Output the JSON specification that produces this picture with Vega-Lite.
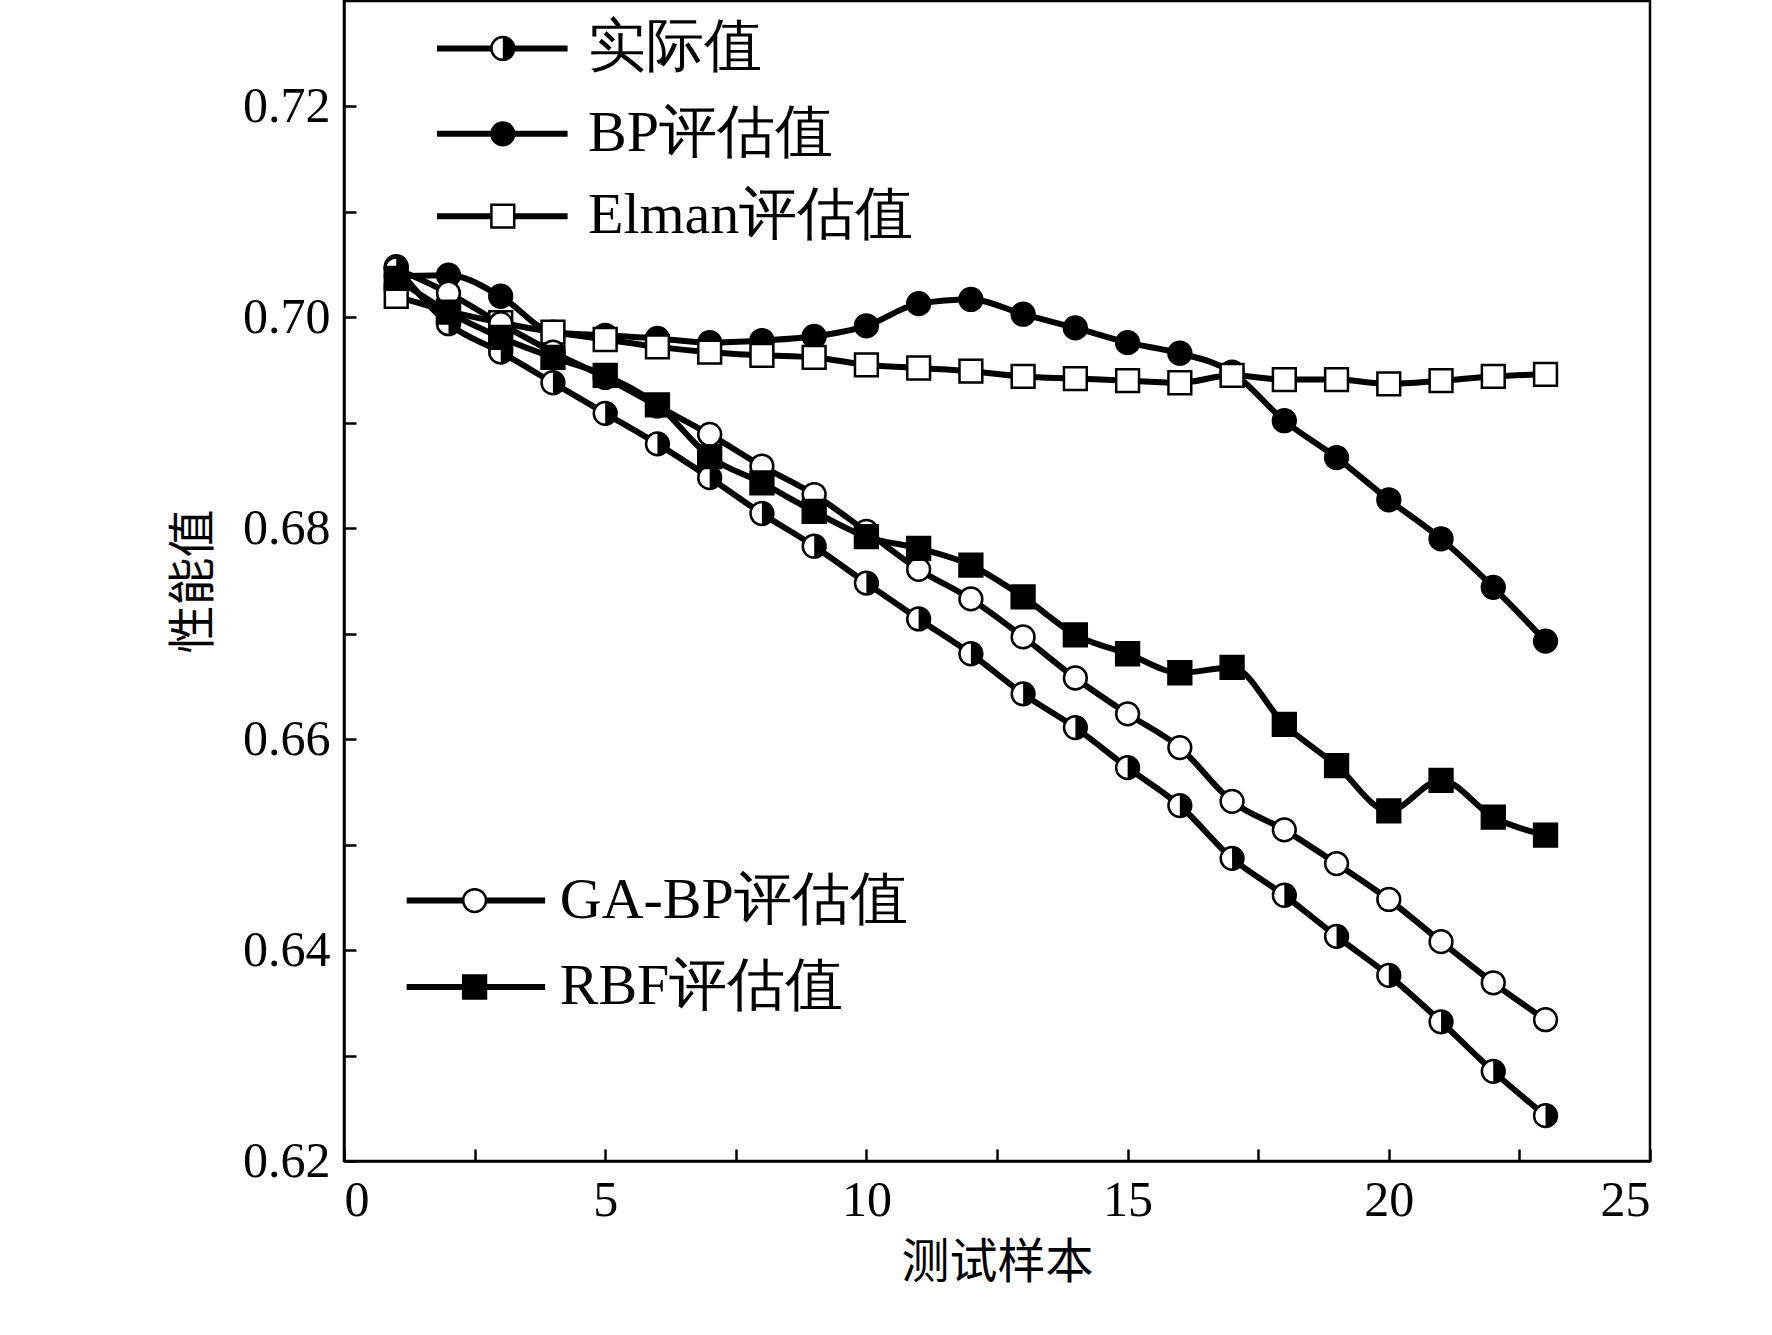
{
"$schema":"https://vega.github.io/schema/vega-lite/v6.json",
"width":1306,"height":1160,"autosize":{"type":"none"},
"padding":{"left":344,"top":1,"right":122,"bottom":174},
"background":"white",
"config":{"view":{"stroke":"black","strokeWidth":2.5},"axis":{"grid":false,"domainColor":"black","domainWidth":2.5,"tickColor":"black","tickWidth":2.5,"labelFont":"Liberation Serif","labelFontSize":50,"labelColor":"black","titleFont":"Noto Sans CJK SC","titleFontSize":48,"titleFontWeight":"normal","titleColor":"black"}},
"datasets":{
"d":[
{"s":"实际值","x":1,"v":0.7048},{"s":"实际值","x":2,"v":0.6994},{"s":"实际值","x":3,"v":0.6967},{"s":"实际值","x":4,"v":0.6938},{"s":"实际值","x":5,"v":0.6909},{"s":"实际值","x":6,"v":0.6880},{"s":"实际值","x":7,"v":0.6848},{"s":"实际值","x":8,"v":0.6814},{"s":"实际值","x":9,"v":0.6783},{"s":"实际值","x":10,"v":0.6748},{"s":"实际值","x":11,"v":0.6714},{"s":"实际值","x":12,"v":0.6681},{"s":"实际值","x":13,"v":0.6643},{"s":"实际值","x":14,"v":0.6611},{"s":"实际值","x":15,"v":0.6573},{"s":"实际值","x":16,"v":0.6537},{"s":"实际值","x":17,"v":0.6487},{"s":"实际值","x":18,"v":0.6452},{"s":"实际值","x":19,"v":0.6413},{"s":"实际值","x":20,"v":0.6376},{"s":"实际值","x":21,"v":0.6332},{"s":"实际值","x":22,"v":0.6285},{"s":"实际值","x":23,"v":0.6243},
{"s":"BP评估值","x":1,"v":0.7039},{"s":"BP评估值","x":2,"v":0.7040},{"s":"BP评估值","x":3,"v":0.7020},{"s":"BP评估值","x":4,"v":0.6986},{"s":"BP评估值","x":5,"v":0.6983},{"s":"BP评估值","x":6,"v":0.6980},{"s":"BP评估值","x":7,"v":0.6976},{"s":"BP评估值","x":8,"v":0.6978},{"s":"BP评估值","x":9,"v":0.6982},{"s":"BP评估值","x":10,"v":0.6992},{"s":"BP评估值","x":11,"v":0.7013},{"s":"BP评估值","x":12,"v":0.7017},{"s":"BP评估值","x":13,"v":0.7003},{"s":"BP评估值","x":14,"v":0.6990},{"s":"BP评估值","x":15,"v":0.6976},{"s":"BP评估值","x":16,"v":0.6966},{"s":"BP评估值","x":17,"v":0.6948},{"s":"BP评估值","x":18,"v":0.6902},{"s":"BP评估值","x":19,"v":0.6867},{"s":"BP评估值","x":20,"v":0.6827},{"s":"BP评估值","x":21,"v":0.6790},{"s":"BP评估值","x":22,"v":0.6744},{"s":"BP评估值","x":23,"v":0.6693},
{"s":"Elman评估值","x":1,"v":0.7020},{"s":"Elman评估值","x":2,"v":0.7006},{"s":"Elman评估值","x":3,"v":0.6995},{"s":"Elman评估值","x":4,"v":0.6986},{"s":"Elman评估值","x":5,"v":0.6979},{"s":"Elman评估值","x":6,"v":0.6972},{"s":"Elman评估值","x":7,"v":0.6967},{"s":"Elman评估值","x":8,"v":0.6964},{"s":"Elman评估值","x":9,"v":0.6962},{"s":"Elman评估值","x":10,"v":0.6955},{"s":"Elman评估值","x":11,"v":0.6952},{"s":"Elman评估值","x":12,"v":0.6949},{"s":"Elman评估值","x":13,"v":0.6944},{"s":"Elman评估值","x":14,"v":0.6942},{"s":"Elman评估值","x":15,"v":0.6940},{"s":"Elman评估值","x":16,"v":0.6938},{"s":"Elman评估值","x":17,"v":0.6945},{"s":"Elman评估值","x":18,"v":0.6941},{"s":"Elman评估值","x":19,"v":0.6941},{"s":"Elman评估值","x":20,"v":0.6937},{"s":"Elman评估值","x":21,"v":0.6940},{"s":"Elman评估值","x":22,"v":0.6944},{"s":"Elman评估值","x":23,"v":0.6946},
{"s":"GA-BP评估值","x":1,"v":0.7046},{"s":"GA-BP评估值","x":2,"v":0.7023},{"s":"GA-BP评估值","x":3,"v":0.6994},{"s":"GA-BP评估值","x":4,"v":0.6967},{"s":"GA-BP评估值","x":5,"v":0.6943},{"s":"GA-BP评估值","x":6,"v":0.6916},{"s":"GA-BP评估值","x":7,"v":0.6889},{"s":"GA-BP评估值","x":8,"v":0.6859},{"s":"GA-BP评估值","x":9,"v":0.6832},{"s":"GA-BP评估值","x":10,"v":0.6797},{"s":"GA-BP评估值","x":11,"v":0.6761},{"s":"GA-BP评估值","x":12,"v":0.6733},{"s":"GA-BP评估值","x":13,"v":0.6697},{"s":"GA-BP评估值","x":14,"v":0.6658},{"s":"GA-BP评估值","x":15,"v":0.6624},{"s":"GA-BP评估值","x":16,"v":0.6592},{"s":"GA-BP评估值","x":17,"v":0.6541},{"s":"GA-BP评估值","x":18,"v":0.6514},{"s":"GA-BP评估值","x":19,"v":0.6482},{"s":"GA-BP评估值","x":20,"v":0.6448},{"s":"GA-BP评估值","x":21,"v":0.6408},{"s":"GA-BP评估值","x":22,"v":0.6369},{"s":"GA-BP评估值","x":23,"v":0.6334},
{"s":"RBF评估值","x":1,"v":0.7037},{"s":"RBF评估值","x":2,"v":0.7005},{"s":"RBF评估值","x":3,"v":0.6981},{"s":"RBF评估值","x":4,"v":0.6962},{"s":"RBF评估值","x":5,"v":0.6945},{"s":"RBF评估值","x":6,"v":0.6917},{"s":"RBF评估值","x":7,"v":0.6868},{"s":"RBF评估值","x":8,"v":0.6843},{"s":"RBF评估值","x":9,"v":0.6816},{"s":"RBF评估值","x":10,"v":0.6792},{"s":"RBF评估值","x":11,"v":0.6781},{"s":"RBF评估值","x":12,"v":0.6765},{"s":"RBF评估值","x":13,"v":0.6735},{"s":"RBF评估值","x":14,"v":0.6699},{"s":"RBF评估值","x":15,"v":0.6681},{"s":"RBF评估值","x":16,"v":0.6663},{"s":"RBF评估值","x":17,"v":0.6668},{"s":"RBF评估值","x":18,"v":0.6614},{"s":"RBF评估值","x":19,"v":0.6575},{"s":"RBF评估值","x":20,"v":0.6532},{"s":"RBF评估值","x":21,"v":0.6561},{"s":"RBF评估值","x":22,"v":0.6526},{"s":"RBF评估值","x":23,"v":0.6509}
],
"leg":[
{"s":"实际值","x1":1.78,"x2":4.28,"xm":3.04,"xt":4.67,"y":0.7255},
{"s":"BP评估值","x1":1.78,"x2":4.28,"xm":3.04,"xt":4.67,"y":0.7174},
{"s":"Elman评估值","x1":1.78,"x2":4.28,"xm":3.04,"xt":4.67,"y":0.7096},
{"s":"GA-BP评估值","x1":1.2,"x2":3.85,"xm":2.5,"xt":4.13,"y":0.6447},
{"s":"RBF评估值","x1":1.2,"x2":3.85,"xm":2.5,"xt":4.13,"y":0.6365}
]
},
"layer":[
{"data":{"name":"d"},"mark":{"type":"line","color":"black","strokeWidth":6,"interpolate":"monotone"},
 "encoding":{"x":{"field":"x","type":"quantitative","scale":{"domain":[0,25],"nice":false},"axis":{"values":[0,2.5,5,7.5,10,12.5,15,17.5,20,22.5,25],"labelExpr":"datum.value % 5 === 0 ? datum.label : ''","tickSize":-12,"labelPadding":26,"title":"测试样本","titlePadding":14}},
 "y":{"field":"v","type":"quantitative","scale":{"domain":[0.62,0.73],"nice":false,"zero":false},"axis":{"values":[0.62,0.63,0.64,0.65,0.66,0.67,0.68,0.69,0.7,0.71,0.72],"labelExpr":"round(datum.value*100) % 2 === 0 ? format(datum.value, '.2f') : ''","tickSize":-12,"labelPadding":26,"title":"性能值","titlePadding":24}},
 "detail":{"field":"s"}}},
{"data":{"name":"d"},"mark":{"type":"point","filled":false,"stroke":"black","strokeWidth":2.5,"size":520,"opacity":1},
 "encoding":{"x":{"field":"x","type":"quantitative"},"y":{"field":"v","type":"quantitative"},
 "shape":{"field":"s","type":"nominal","scale":{"domain":["实际值","BP评估值","Elman评估值","GA-BP评估值","RBF评估值"],"range":["circle","circle","square","circle","square"]},"legend":null},
 "fill":{"field":"s","type":"nominal","scale":{"domain":["实际值","BP评估值","Elman评估值","GA-BP评估值","RBF评估值"],"range":["white","black","white","white","black"]},"legend":null}}},
{"data":{"name":"d"},"transform":[{"filter":"datum.s==='实际值'"}],"mark":{"type":"point","shape":"M0,-1A1,1 0 0 1 0,1Z","filled":true,"fill":"black","size":520,"opacity":1},
 "encoding":{"x":{"field":"x","type":"quantitative"},"y":{"field":"v","type":"quantitative"}}},
{"data":{"name":"leg"},"mark":{"type":"rule","color":"black","strokeWidth":6},
 "encoding":{"x":{"field":"x1","type":"quantitative"},"x2":{"field":"x2"},"y":{"field":"y","type":"quantitative"}}},
{"data":{"name":"leg"},"mark":{"type":"point","filled":false,"stroke":"black","strokeWidth":2.5,"size":520,"opacity":1},
 "encoding":{"x":{"field":"xm","type":"quantitative"},"y":{"field":"y","type":"quantitative"},
 "shape":{"field":"s","type":"nominal","legend":null},"fill":{"field":"s","type":"nominal","legend":null}}},
{"data":{"name":"leg"},"transform":[{"filter":"datum.s==='实际值'"}],"mark":{"type":"point","shape":"M0,-1A1,1 0 0 1 0,1Z","filled":true,"fill":"black","size":520,"opacity":1},
 "encoding":{"x":{"field":"xm","type":"quantitative"},"y":{"field":"y","type":"quantitative"}}},
{"data":{"name":"leg"},"mark":{"type":"text","align":"left","baseline":"middle","font":"Liberation Serif","fontSize":58,"color":"black"},
 "encoding":{"x":{"field":"xt","type":"quantitative"},"y":{"field":"y","type":"quantitative"},"text":{"field":"s"}}}
]
}
